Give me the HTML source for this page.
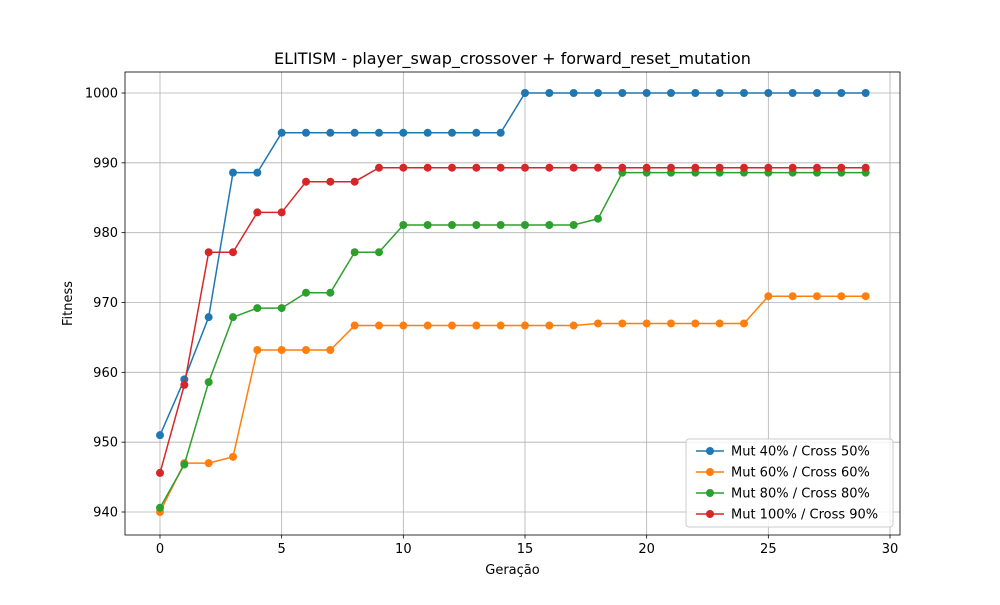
<!DOCTYPE html>
<html><head><meta charset="utf-8"><style>
body{margin:0;background:#fff;font-family:"Liberation Sans","DejaVu Sans",sans-serif;}
text{font-family:"DejaVu Sans","Liberation Sans",sans-serif;}
</style></head><body>
<svg id="chart" width="1000" height="600" xmlns="http://www.w3.org/2000/svg"></svg>
<script>
const generations = [...Array(30).keys()];
const seriesNames = ["Mut 40% / Cross 50%","Mut 60% / Cross 60%","Mut 80% / Cross 80%","Mut 100% / Cross 90%"];
const blueValues = [951,959,967.9,988.6,988.6,994.3,994.3,994.3,994.3,994.3,994.3,994.3,994.3,994.3,994.3,1000,1000,1000,1000,1000,1000,1000,1000,1000,1000,1000,1000,1000,1000,1000];
const orangeValues = [940,947,947,947.9,963.2,963.2,963.2,963.2,966.7,966.7,966.7,966.7,966.7,966.7,966.7,966.7,966.7,966.7,967,967,967,967,967,967,967,970.9,970.9,970.9,970.9,970.9];
const greenValues = [940.6,946.8,958.6,967.9,969.2,969.2,971.4,971.4,977.2,977.2,981.1,981.1,981.1,981.1,981.1,981.1,981.1,981.1,982,988.6,988.6,988.6,988.6,988.6,988.6,988.6,988.6,988.6,988.6,988.6];
const redValues = [945.6,958.2,977.2,977.2,982.9,982.9,987.3,987.3,987.3,989.3,989.3,989.3,989.3,989.3,989.3,989.3,989.3,989.3,989.3,989.3,989.3,989.3,989.3,989.3,989.3,989.3,989.3,989.3,989.3,989.3];
const xTicks = [0,5,10,15,20,25,30];
const yTicks = [940,950,960,970,980,990,1000];
const colors = ["#1f77b4","#ff7f0e","#2ca02c","#d62728"];
const allSeries = [blueValues,orangeValues,greenValues,redValues];

const L=125,R=900,T=72,B=535;
const xs = v => 160 + (v-0)*(890-160)/30;
const ys = v => 512 - (v-940)*(512-93)/60;
const svg=document.getElementById('chart');
const NS="http://www.w3.org/2000/svg";
function mk(tag,attrs,parent){const e=document.createElementNS(NS,tag);for(const k in attrs)e.setAttribute(k,attrs[k]);(parent||svg).appendChild(e);return e;}

const grid=mk('g',{});


xTicks.forEach(t=>{mk('line',{x1:xs(t),x2:xs(t),y1:T,y2:B,stroke:'#b0b0b0','stroke-width':0.8},grid);});
yTicks.forEach(t=>{mk('line',{x1:L,x2:R,y1:ys(t),y2:ys(t),stroke:'#b0b0b0','stroke-width':0.8},grid);});

const xa=mk('g',{});


xTicks.forEach(t=>{mk('line',{x1:xs(t),x2:xs(t),y1:B,y2:B+3.5,stroke:'#000','stroke-width':0.8},xa);
 const tx=mk('text',{x:xs(t),y:B+18,'font-size':13,'text-anchor':'middle'},xa);tx.textContent=t;});
const ya=mk('g',{});


yTicks.forEach(t=>{mk('line',{x1:L-3.5,x2:L,y1:ys(t),y2:ys(t),stroke:'#000','stroke-width':0.8},ya);
 const tx=mk('text',{x:L-7,y:ys(t)+4.5,'font-size':13,'text-anchor':'end'},ya);tx.textContent=t;});

allSeries.forEach((vals,i)=>{
 const g=mk('g',{});
 
 
 mk('polyline',{points:vals.map((v,j)=>xs(generations[j])+','+ys(v)).join(' '),fill:'none',stroke:colors[i],'stroke-width':1.5},g);
 vals.forEach((v,j)=>{mk('circle',{cx:xs(generations[j]),cy:ys(v),r:4,fill:colors[i]},g);});
});

const frame=mk('rect',{x:L,y:T,width:R-L,height:B-T,fill:'none',stroke:'#000','stroke-width':0.8});



const title=mk('text',{x:(L+R)/2,y:64,'font-size':16,'text-anchor':'middle'});
title.textContent='ELITISM - player_swap_crossover + forward_reset_mutation';


const xl=mk('text',{x:(L+R)/2,y:574,'font-size':13,'text-anchor':'middle'});
xl.textContent='Geração';


const yl=mk('text',{x:72,y:(T+B)/2,'font-size':13,'text-anchor':'middle',transform:'rotate(-90 72 '+((T+B)/2)+')'});
yl.textContent='Fitness';



const lg=mk('g',{});


mk('rect',{x:686,y:439,width:207,height:88,rx:3,fill:'#fff','fill-opacity':0.8,stroke:'#ccc'},lg);
seriesNames.forEach((n,i)=>{
 const e=mk('g',{},lg);
 
 
 const y=451+i*21;
 mk('line',{x1:696,x2:724,y1:y,y2:y,stroke:colors[i],'stroke-width':1.5},e);
 mk('circle',{cx:710,cy:y,r:4,fill:colors[i]},e);
 const t=mk('text',{x:731,y:y+4.5,'font-size':13},e);t.textContent=n;
});
</script>
</body></html>
